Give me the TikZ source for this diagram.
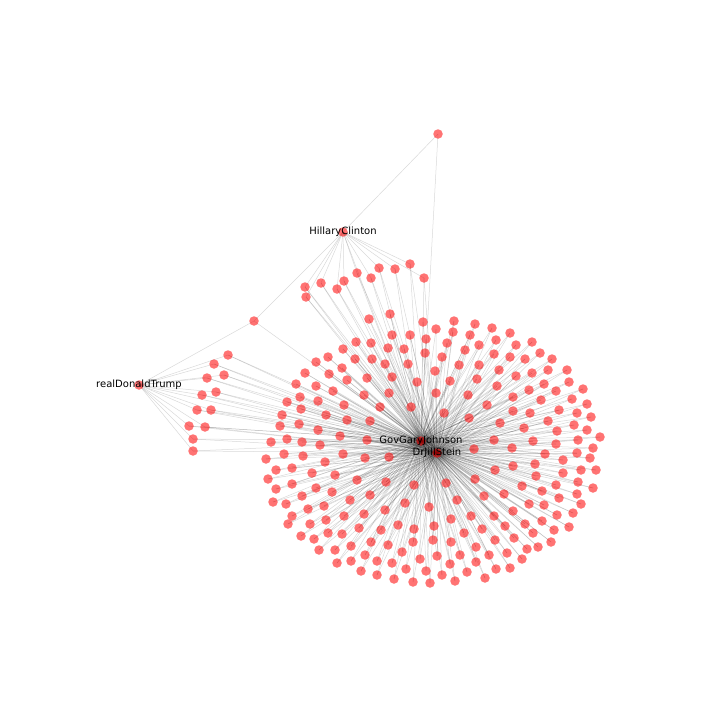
\documentclass[tikz,border=0pt]{standalone}
\usepackage{fontspec}
\setmainfont{DejaVu Sans}
\usetikzlibrary{backgrounds}

\begin{document}
\begin{tikzpicture}[x=1pt,y=-1pt,
  dot/.style={circle,fill=red,fill opacity=0.55,inner sep=0pt,minimum size=9.5pt},
  edge/.style={draw=black,draw opacity=0.15,line width=0.5pt},
  lbl/.style={font=\fontsize{10}{12}\selectfont,text=black,inner sep=0pt}]
  \useasboundingbox (0,0) rectangle (720,720);

  %Candidates
  \node[dot] (hc) at (343,232) {};
  \node[dot] (dt) at (139,385) {};
  \node[dot] (gj) at (421,441) {};
  \node[dot] (js) at (437,453) {};
  %Lone accounts between the groups
  \node[dot] (top) at (438,134) {};
  \node[dot] (bridge) at (254,321) {};

  %Followers of HillaryClinton
  \foreach \x/\y [count=\i] in {305/287,306/297,321/283,337/289,344/281,357/273,
    371/278,379/268,395/269,410/264,424/278}
    \node[dot] (h\i) at (\x,\y) {};

  %Followers of realDonaldTrump
  \foreach \x/\y [count=\i] in {228/355,214/364,224/375,207/378,216/392,202/395,
    211/410,197/410,205/427,189/426,193/439,193/451}
    \node[dot] (t\i) at (\x,\y) {};

  %Big cluster round Johnson and Stein
  \foreach \x/\y [count=\i] in {369/319,390/314,423/322,454/321,475/324,436/329,
    453/332,392/335,410/335,426/339,470/335,356/342,371/343,388/348,404/349,
    425/353,447/343,465/350,479/345,343/349,328/357,316/362,355/359,372/359,
    385/364,408/364,442/357,459/365,479/365,305/373,329/374,342/368,347/380,
    367/378,392/377,417/382,435/371,450/381,477/379,296/384,316/386,333/391,
    364/395,389/393,436/393,468/395,487/405,300/397,318/401,344/405,380/407,
    411/407,287/402,301/409,282/415,326/415,444/413,469/418,299/424,280/426,
    318/430,347/420,370/421,340/436,367/440,287/439,271/442,302/442,320/445,
    474/449,284/454,303/456,266/459,343/454,389/457,365/458,
    492/328,510/333,532/342,496/340,516/345,540/353,552/359,494/354,510/357,
    525/359,499/370,516/376,532/373,548/370,567/370,497/386,529/390,544/384,
    556/391,569/382,583/389,513/397,541/400,572/399,587/404,513/411,530/413,
    559/410,577/413,591/417,500/423,524/428,548/421,574/425,587/430,600/437,
    494/440,512/448,533/441,556/444,557/431,578/440,593/448,545/454,563/460,
    577/453,590/458,
    325/462,276/470,292/468,312/473,335/475,357/480,386/482,414/485,446/483,
    475/479,268/479,292/484,316/488,332/492,276/489,302/496,350/500,370/495,
    405/503,429/507,457/500,484/496,273/502,286/504,308/509,324/506,344/516,
    364/514,385/510,292/516,288/524,310/524,326/520,359/528,381/530,398/525,
    414/529,434/526,451/519,471/516,482/529,301/536,314/539,328/533,342/534,
    371/542,388/545,402/552,413/542,433/540,451/542,464/533,476/547,489/555,
    319/550,335/550,351/546,365/555,337/563,351/561,377/561,392/563,420/559,
    437/556,460/555,406/569,426/571,450/564,467/572,476/562,361/571,377/575,
    394/579,413/582,430/583,442/575,455/581,485/578,
    495/470,513/466,535/464,536/476,563/473,581/470,596/470,522/486,556/485,
    578/482,593/488,504/494,542/491,577/494,529/504,544/505,559/498,581/504,
    513/511,573/513,557/515,494/516,542/521,525/524,569/527,505/526,554/530,
    533/533,514/538,495/540,551/542,538/547,527/549,507/553,522/559,496/569,
    510/568}
    \node[dot] (c\i) at (\x,\y) {};

  %Edges, under the dots
  \begin{pgfonlayer}{background}
    \foreach \i in {1,...,238}
    {
      \draw[edge] (c\i.center) -- (gj.center);
      \draw[edge] (c\i.center) -- (js.center);
    }
    \foreach \i in {1,...,11}
    {
      \draw[edge] (h\i.center) -- (hc.center);
      \draw[edge] (h\i.center) -- (gj.center);
      \draw[edge] (h\i.center) -- (js.center);
    }
    \foreach \i in {1,...,12}
    {
      \draw[edge] (t\i.center) -- (dt.center);
      \draw[edge] (t\i.center) -- (gj.center);
      \draw[edge] (t\i.center) -- (js.center);
    }
    \draw[edge] (top.center) -- (hc.center);
    \draw[edge] (top.center) -- (gj.center);
    \draw[edge] (bridge.center) -- (hc.center);
    \draw[edge] (bridge.center) -- (dt.center);
    \draw[edge] (bridge.center) -- (gj.center);
    \draw[edge] (hc.center) -- (gj.center);
    \draw[edge] (dt.center) -- (js.center);
  \end{pgfonlayer}

  %Labels
  \node[lbl] (hcl) at (hc) {HillaryClinton};
  \node[lbl] (dtl) at (dt) {realDonaldTrump};
  \node[lbl] (gjl) at (gj) {GovGaryJohnson};
  \node[lbl] (jsl) at (js) {DrJillStein};
\end{tikzpicture}
\end{document}
